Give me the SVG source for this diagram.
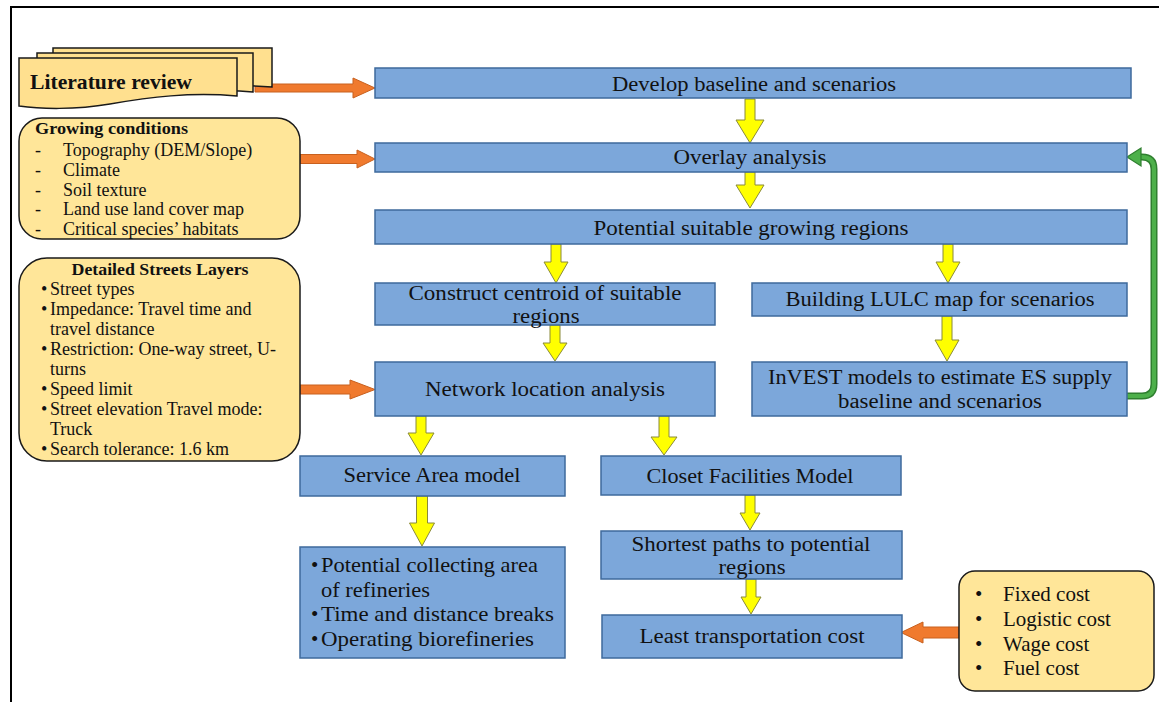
<svg xmlns="http://www.w3.org/2000/svg" width="1159" height="702" viewBox="0 0 1159 702">
<style>
.blue{fill:#7CA7DA;stroke:#3E6A9C;stroke-width:1.5}
.yel{fill:#FFE699;stroke:#1a1a1a;stroke-width:1.5}
.doc{fill:#FFE08F;stroke:#1a1a1a;stroke-width:1.5}
.ya{fill:#FFFF00;stroke:#8A8A3A;stroke-width:1}
.oa{fill:#F07A2E;stroke:#C8601E;stroke-width:1}
.t{font-family:"Liberation Serif",serif;fill:#111}
.bt{font-family:"Liberation Serif",serif;fill:#111;font-size:20px;text-anchor:middle}
.lt{font-family:"Liberation Serif",serif;fill:#111;font-size:18px}
</style>
<rect x="0" y="0" width="1159" height="702" fill="#fff"/>
<path d="M11,702 V7 H1159" fill="none" stroke="#000" stroke-width="2"/>

<g id="connectors">
  <!-- orange arrows -->
  <polygon class="oa" points="255,84 353,84 353,78 375,88 353,98 353,92 255,92"/>
  <polygon class="oa" points="300,154.5 357,154.5 357,150 375,159 357,168 357,163.5 300,163.5"/>
  <polygon class="oa" points="300,385 350,385 350,380 375,389.5 350,399 350,394 300,394"/>
  <polygon class="oa" points="959,627 923,627 923,622 901,632.5 923,643 923,638 959,638"/>
  <!-- yellow arrows -->
  <polygon class="ya" points="745,99 755,99 755,120 764,120 750,143 736,120 745,120"/>
  <polygon class="ya" points="745,172 755,172 755,185 764,185 750,208 736,185 745,185"/>
  <polygon class="ya" points="551,244 561,244 561,262 568,262 556,283 544,262 551,262"/>
  <polygon class="ya" points="943,244 953,244 953,262 960,262 948,283 936,262 943,262"/>
  <polygon class="ya" points="550,325 560,325 560,343 567,343 555,361 543,343 550,343"/>
  <polygon class="ya" points="942,316 952,316 952,340 959,340 947,361 935,340 942,340"/>
  <polygon class="ya" points="416,416 426,416 426,433 434,433 421,455 408,433 416,433"/>
  <polygon class="ya" points="659,416 669,416 669,437 677,437 664,455 651,437 659,437"/>
  <polygon class="ya" points="416.5,496 427.5,496 427.5,523 434.5,523 422,546 409.5,523 416.5,523"/>
  <polygon class="ya" points="745,495 755,495 755,513 760,513 750,530 740,513 745,513"/>
  <polygon class="ya" points="746,579 756,579 756,597 761,597 751,614 741,597 746,597"/>
  <!-- green feedback arrow -->
  <path d="M1127,396 H1142 Q1154,396 1154,384 V169 Q1154,157 1142,157 H1139" fill="none" stroke="#2F7F2F" stroke-width="7"/>
  <path d="M1127,396 H1142 Q1154,396 1154,384 V169 Q1154,157 1142,157 H1138" fill="none" stroke="#4DB04A" stroke-width="4"/>
  <polygon points="1127,157 1141,148 1141,166" fill="#4DB04A" stroke="#2F7F2F" stroke-width="1.2"/>
</g>

<g id="literature-review">
  <path class="doc" d="M53,48 H272 V87 C240,84 200,87 160,93 C120,99 80,99 53,96 Z"/>
  <path class="doc" d="M37,53 H253 V92 C220,89 180,92 140,98 C100,104 65,104 37,101 Z"/>
  <path class="doc" d="M19,58 H237 V96 C190,92 150,97 110,104 C75,110 40,109 19,106 Z"/>
  <text class="t" x="30" y="89" font-size="21" font-weight="bold" textLength="162" lengthAdjust="spacingAndGlyphs">Literature review</text>
</g>

<g id="growing-conditions">
  <rect class="yel" x="19" y="118" width="281" height="121" rx="23"/>
  <text class="t" x="35" y="134" font-size="16.5" font-weight="bold" textLength="153" lengthAdjust="spacingAndGlyphs">Growing conditions</text>
  <g class="lt">
    <text x="35" y="156">-</text><text x="63" y="156">Topography (DEM/Slope)</text>
    <text x="35" y="176">-</text><text x="63" y="176">Climate</text>
    <text x="35" y="196">-</text><text x="63" y="196">Soil texture</text>
    <text x="35" y="215">-</text><text x="63" y="215">Land use land cover map</text>
    <text x="35" y="235">-</text><text x="63" y="235">Critical species’ habitats</text>
  </g>
</g>

<g id="detailed-streets">
  <rect class="yel" x="19" y="258" width="281" height="203" rx="28"/>
  <text class="t" x="160" y="275" font-size="17.5" font-weight="bold" text-anchor="middle" textLength="177" lengthAdjust="spacingAndGlyphs">Detailed Streets Layers</text>
  <g class="lt">
    <text x="41" y="295">•</text><text x="50" y="295">Street types</text>
    <text x="41" y="315">•</text><text x="50" y="315">Impedance: Travel time and</text>
    <text x="50" y="335">travel distance</text>
    <text x="41" y="355">•</text><text x="50" y="355">Restriction: One-way street, U-</text>
    <text x="50" y="375">turns</text>
    <text x="41" y="395">•</text><text x="50" y="395">Speed limit</text>
    <text x="41" y="415">•</text><text x="50" y="415">Street elevation Travel mode:</text>
    <text x="50" y="435">Truck</text>
    <text x="41" y="455">•</text><text x="50" y="455">Search tolerance: 1.6 km</text>
  </g>
</g>

<g id="develop-baseline">
  <rect class="blue" x="375" y="68" width="756" height="30"/>
  <text class="bt" x="754" y="91" textLength="284" lengthAdjust="spacingAndGlyphs">Develop baseline and scenarios</text>
</g>
<g id="overlay-analysis">
  <rect class="blue" x="375" y="143" width="752" height="29"/>
  <text class="bt" x="750" y="164" textLength="153" lengthAdjust="spacingAndGlyphs">Overlay analysis</text>
</g>
<g id="potential-suitable">
  <rect class="blue" x="375" y="210" width="752" height="34"/>
  <text class="bt" x="751" y="235" textLength="315" lengthAdjust="spacingAndGlyphs">Potential suitable growing regions</text>
</g>
<g id="construct-centroid">
  <rect class="blue" x="375" y="283" width="340" height="42"/>
  <text class="bt" x="545" y="300" textLength="273" lengthAdjust="spacingAndGlyphs">Construct centroid of suitable</text>
  <text class="bt" x="546" y="323" textLength="67" lengthAdjust="spacingAndGlyphs">regions</text>
</g>
<g id="building-lulc">
  <rect class="blue" x="752" y="283" width="375" height="33"/>
  <text class="bt" x="940" y="306" textLength="309" lengthAdjust="spacingAndGlyphs">Building LULC map for scenarios</text>
</g>
<g id="network-location">
  <rect class="blue" x="375" y="362" width="340" height="54"/>
  <text class="bt" x="545" y="396" textLength="240" lengthAdjust="spacingAndGlyphs">Network location analysis</text>
</g>
<g id="invest-models">
  <rect class="blue" x="752" y="362" width="375" height="54"/>
  <text class="bt" x="940" y="384" textLength="344" lengthAdjust="spacingAndGlyphs">InVEST models to estimate ES supply</text>
  <text class="bt" x="940" y="408" textLength="204" lengthAdjust="spacingAndGlyphs">baseline and scenarios</text>
</g>
<g id="service-area">
  <rect class="blue" x="300" y="456" width="265" height="40"/>
  <text class="bt" x="432" y="482" font-size="21" textLength="177" lengthAdjust="spacingAndGlyphs">Service Area model</text>
</g>
<g id="closet-facilities">
  <rect class="blue" x="601" y="456" width="300" height="39"/>
  <text class="bt" x="750" y="483" font-size="21" textLength="207" lengthAdjust="spacingAndGlyphs">Closet Facilities Model</text>
</g>
<g id="potential-collecting">
  <rect class="blue" x="300" y="547" width="265" height="111"/>
  <g class="t" font-size="21">
    <text x="311" y="572">•</text><text x="321" y="572" textLength="217" lengthAdjust="spacingAndGlyphs">Potential collecting area</text>
    <text x="321" y="597" textLength="109" lengthAdjust="spacingAndGlyphs">of refineries</text>
    <text x="311" y="621">•</text><text x="321" y="621" textLength="233" lengthAdjust="spacingAndGlyphs">Time and distance breaks</text>
    <text x="311" y="646">•</text><text x="321" y="646" textLength="213" lengthAdjust="spacingAndGlyphs">Operating biorefineries</text>
  </g>
</g>
<g id="shortest-paths">
  <rect class="blue" x="601" y="531" width="301" height="48"/>
  <text class="bt" x="751" y="551" font-size="21" textLength="239" lengthAdjust="spacingAndGlyphs">Shortest paths to potential</text>
  <text class="bt" x="752" y="574" font-size="21" textLength="67" lengthAdjust="spacingAndGlyphs">regions</text>
</g>
<g id="least-transportation">
  <rect class="blue" x="602" y="615" width="300" height="43"/>
  <text class="bt" x="752" y="643" font-size="21" textLength="225" lengthAdjust="spacingAndGlyphs">Least transportation cost</text>
</g>
<g id="cost-factors">
  <rect class="yel" x="959" y="571" width="195" height="120" rx="16"/>
  <g class="t" font-size="21">
    <text x="975" y="601">•</text><text x="1003" y="601">Fixed cost</text>
    <text x="975" y="626">•</text><text x="1003" y="626">Logistic cost</text>
    <text x="975" y="651">•</text><text x="1003" y="651">Wage cost</text>
    <text x="975" y="675">•</text><text x="1003" y="675">Fuel cost</text>
  </g>
</g>
</svg>
